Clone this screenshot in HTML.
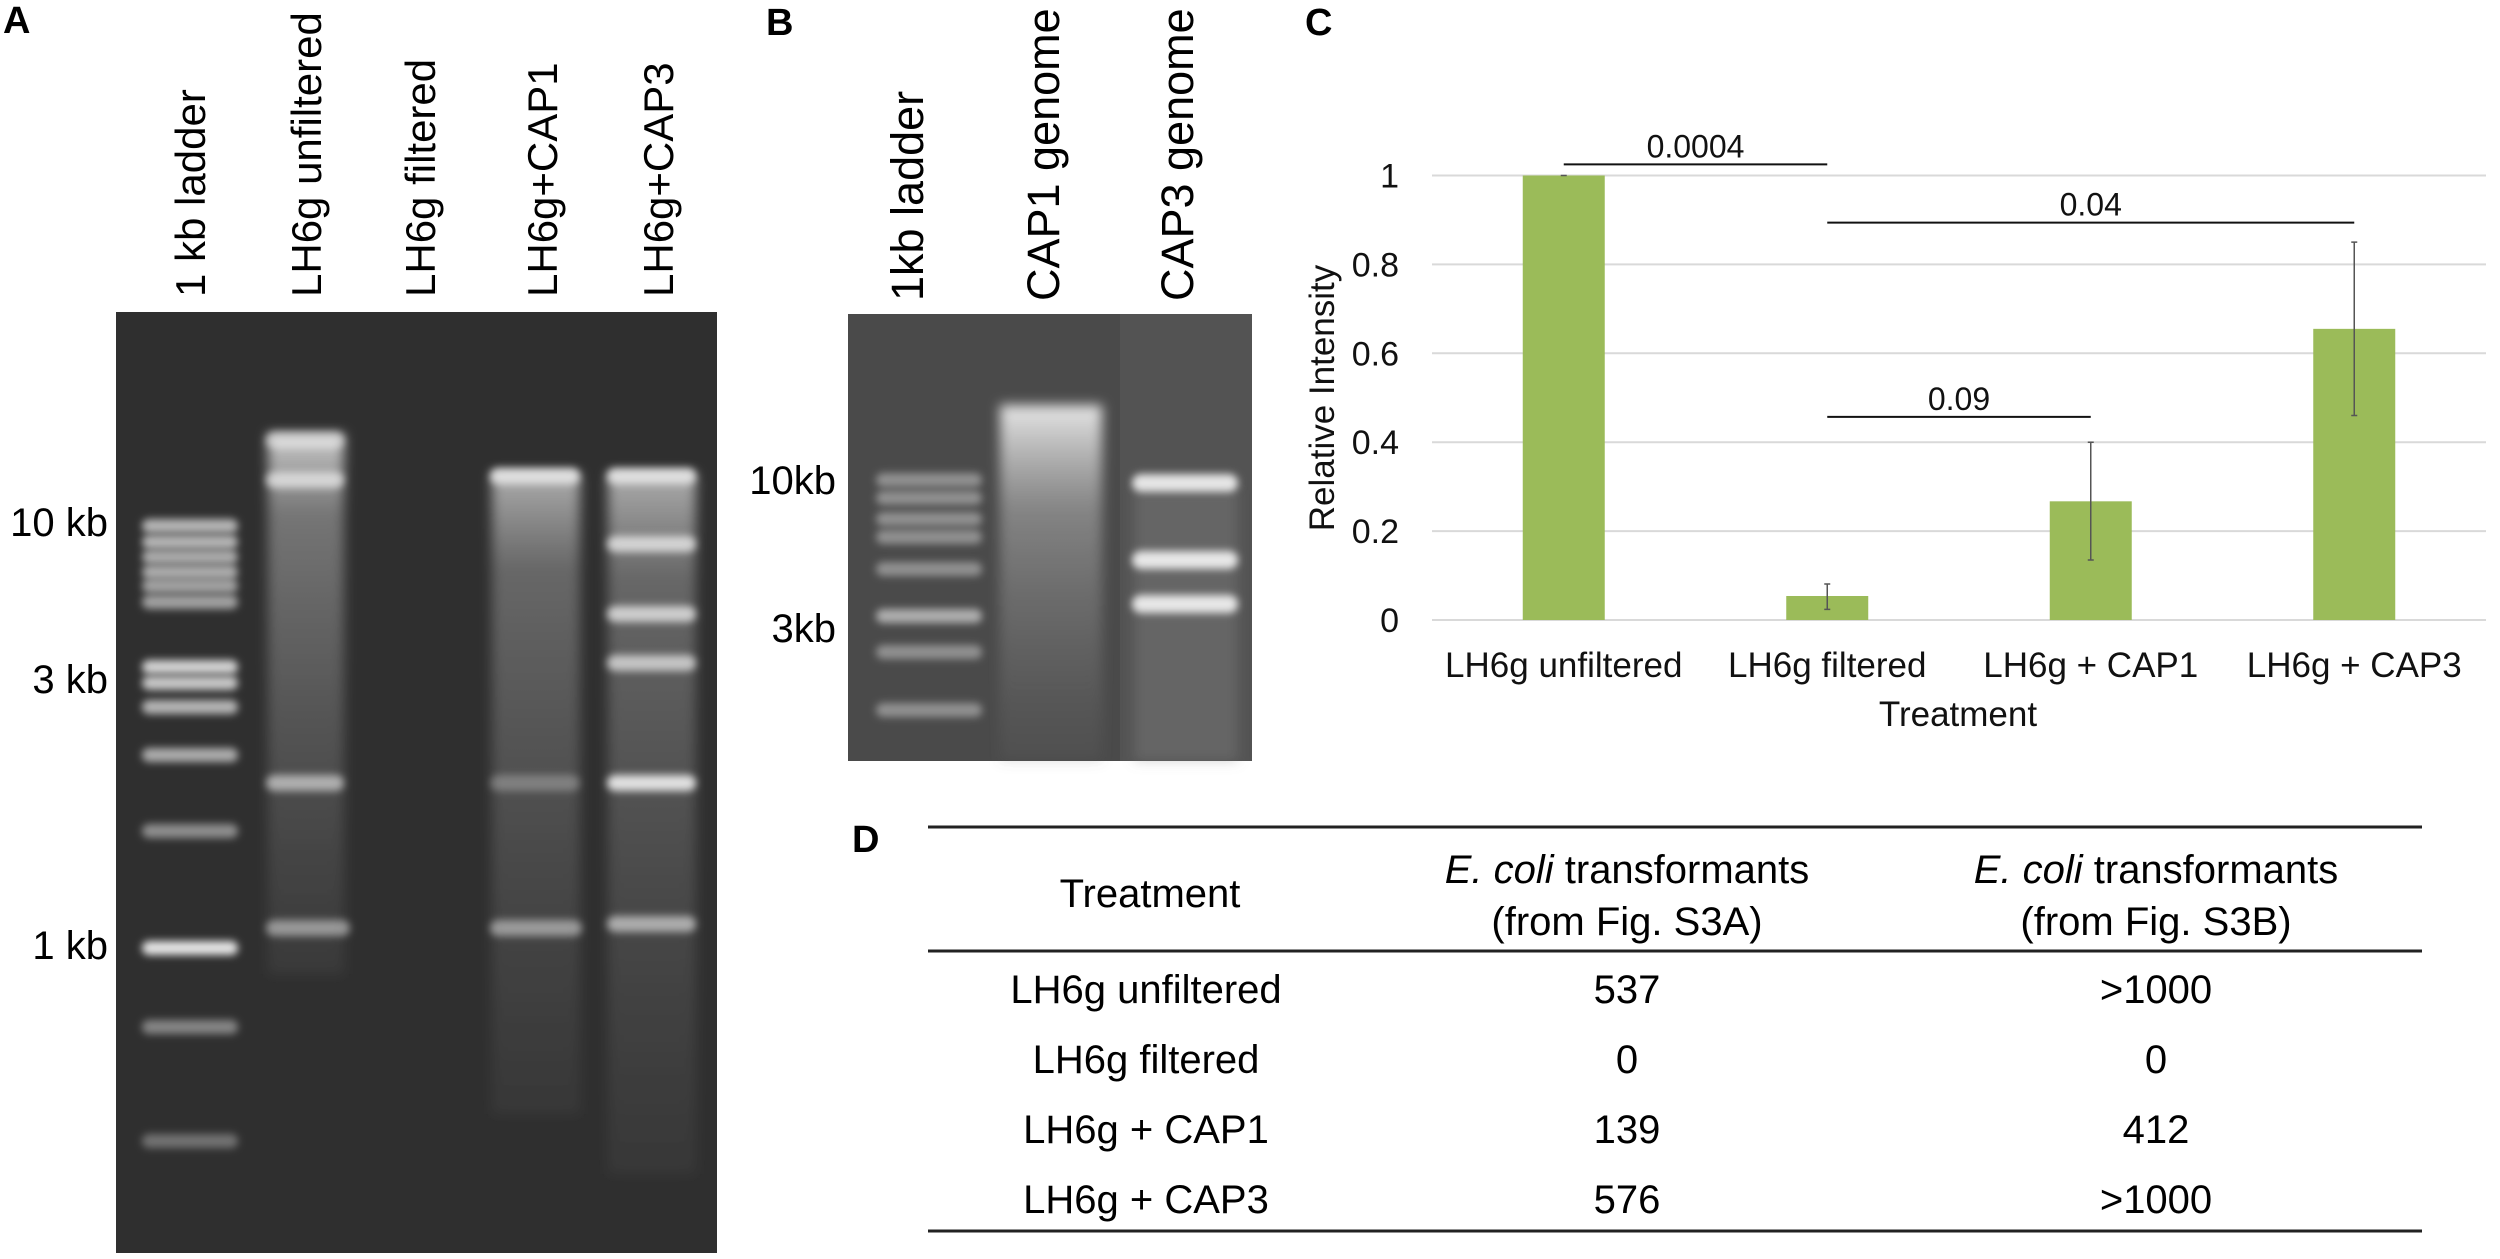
<!DOCTYPE html>
<html><head><meta charset="utf-8"><style>
html,body{margin:0;padding:0;background:#fff;}
svg{display:block;font-family:"Liberation Sans",Arial,sans-serif;}
</style></head><body>
<svg id="fig" width="2500" height="1259" viewBox="0 0 2500 1259" xmlns="http://www.w3.org/2000/svg">
<defs>
<filter id="blur3" x="-20%" y="-200%" width="140%" height="500%"><feGaussianBlur stdDeviation="4"/></filter>
<filter id="blur6" x="-20%" y="-50%" width="140%" height="200%"><feGaussianBlur stdDeviation="6"/></filter>
<linearGradient id="smearA" x1="0" y1="0" x2="0" y2="1"><stop offset="0" stop-color="#ddd" stop-opacity="0.9"/><stop offset="0.15" stop-color="#bbb" stop-opacity="0.5"/><stop offset="1" stop-color="#777" stop-opacity="0.15"/></linearGradient>
<linearGradient id="smearB" x1="0" y1="0" x2="0" y2="1"><stop offset="0" stop-color="#eee" stop-opacity="0.95"/><stop offset="0.3" stop-color="#aaa" stop-opacity="0.6"/><stop offset="1" stop-color="#666" stop-opacity="0.2"/></linearGradient>
</defs>
<rect width="2500" height="1259" fill="#fff"/>

<text x="3" y="33" font-size="38" font-weight="bold">A</text>
<text x="766" y="35" font-size="38" font-weight="bold">B</text>
<text x="1305" y="35" font-size="38" font-weight="bold">C</text>
<text x="852" y="852" font-size="38" font-weight="bold">D</text>

<g>
<rect x="116" y="312" width="601" height="941" fill="#2f2f2f"/>
<g id="gelA"></g>
</g>
<g font-size="42">
<text transform="translate(205,297) rotate(-90)">1 kb ladder</text>
<text transform="translate(321,297) rotate(-90)">LH6g unfiltered</text>
<text transform="translate(435,297) rotate(-90)">LH6g filtered</text>
<text transform="translate(557,297) rotate(-90)">LH6g+CAP1</text>
<text transform="translate(673,297) rotate(-90)">LH6g+CAP3</text>
</g>
<g font-size="40" text-anchor="end">
<text x="108" y="536">10 kb</text>
<text x="108" y="693">3 kb</text>
<text x="108" y="959">1 kb</text>
</g>

<g>
<rect x="848" y="314" width="404" height="447" fill="#4a4a4a"/>
<rect x="1120" y="314" width="132" height="447" fill="#535353"/>
<g id="gelB"></g>
</g>
<g font-size="45">
<text transform="translate(923,301) rotate(-90)">1kb ladder</text>
<text transform="translate(1059,301) rotate(-90)">CAP1 genome</text>
<text transform="translate(1193,301) rotate(-90)">CAP3 genome</text>
</g>
<g font-size="40" text-anchor="end">
<text x="836" y="494">10kb</text>
<text x="836" y="642">3kb</text>
</g>

<g id="chart"></g>

<g font-size="40" text-anchor="middle">
<line x1="928" y1="827" x2="2422" y2="827" stroke="#222" stroke-width="3"/>
<line x1="928" y1="951" x2="2422" y2="951" stroke="#222" stroke-width="3"/>
<line x1="928" y1="1231" x2="2422" y2="1231" stroke="#222" stroke-width="3"/>
<text x="1150" y="907">Treatment</text>
<text x="1627" y="883"><tspan font-style="italic">E. coli</tspan> transformants</text>
<text x="1627" y="935">(from Fig. S3A)</text>
<text x="2156" y="883"><tspan font-style="italic">E. coli</tspan> transformants</text>
<text x="2156" y="935">(from Fig. S3B)</text>
<g id="rows"></g>
</g>
</svg>
<script>
const NS="http://www.w3.org/2000/svg";
function mk(tag,attrs,parent){const e=document.createElementNS(NS,tag);for(const k in attrs)e.setAttribute(k,attrs[k]);parent.appendChild(e);return e;}

const gA=document.getElementById('gelA');
const ladderA=[526,542,557,572,586,602,667,683,707,755,831,948,1027,1141];
const ladderAop=[0.7,0.7,0.65,0.65,0.6,0.6,0.85,0.8,0.7,0.65,0.5,0.95,0.45,0.35];
ladderA.forEach((y,i)=>{const b=mk('rect',{x:142,y:y-7,width:96,height:14,rx:7,fill:'#eeeeee','fill-opacity':ladderAop[i],filter:'url(#blur3)'},gA);

});
mk('rect',{x:268,y:434,width:76,height:540,fill:'url(#smearA)',filter:'url(#blur6)'},gA);
mk('rect',{x:492,y:474,width:88,height:640,fill:'url(#smearA)','fill-opacity':0.8,filter:'url(#blur6)'},gA);
mk('rect',{x:608,y:474,width:88,height:700,fill:'url(#smearA)','fill-opacity':0.8,filter:'url(#blur6)'},gA);
[[266,344,440,0.6],[266,344,480,0.7],[266,344,783,0.6],[266,350,928,0.5],
 [490,580,476,0.85],[490,580,783,0.3],[490,582,928,0.5],
 [607,696,476,0.85],[607,696,544,0.75],[607,696,614,0.75],[607,696,663,0.7],[607,696,783,0.9],[607,696,924,0.6]].forEach(b=>{
 const r=mk('rect',{x:b[0],y:b[2]-8,width:b[1]-b[0],height:16,rx:8,fill:'#f0f0f0','fill-opacity':b[3],filter:'url(#blur3)'},gA);
 
 });

const gB=document.getElementById('gelB');
[480,498,519,537,569,616,652,710].forEach((y,i)=>{const r=mk('rect',{x:876,y:y-7,width:106,height:14,rx:7,fill:'#d8d8d8','fill-opacity':i==5?0.7:0.5,filter:'url(#blur3)'},gB);

});
mk('rect',{x:1000,y:405,width:102,height:356,fill:'url(#smearB)',filter:'url(#blur6)'},gB);
mk('rect',{x:1134,y:490,width:104,height:271,fill:'#888','fill-opacity':0.35,filter:'url(#blur6)'},gB);
[483,560,604].forEach(y=>{const r=mk('rect',{x:1132,y:y-9,width:106,height:18,rx:9,fill:'#f5f5f5','fill-opacity':0.9,filter:'url(#blur3)'},gB);

});

const categories=["LH6g unfiltered","LH6g filtered","LH6g + CAP1","LH6g + CAP3"];
const values=[1.0,0.054,0.267,0.655];
const errLow=[1.0,0.024,0.135,0.46];
const errHigh=[1.0,0.081,0.40,0.85];
const yTicks=[0,0.2,0.4,0.6,0.8,1];
const yTickLabels=["0","0.2","0.4","0.6","0.8","1"];
const sigLabels=["0.0004","0.04","0.09"];
const sigFrom=[0,1,1];
const sigTo=[1,3,2];
const sigLevel=[1.025,0.894,0.457];

const plotL=1432,plotR=2486,y0=620,y1=175.5;
const yS=v=>y0-(y0-y1)*v;
const bandW=(plotR-plotL)/categories.length;
const xC=i=>plotL+bandW*(i+0.5);
const barW=82;
const ch=document.getElementById('chart');
yTicks.forEach((t,i)=>{
 const g=mk('line',{x1:plotL,x2:plotR,y1:yS(t),y2:yS(t),stroke:'#d9d9d9','stroke-width':2},ch);
 
 
 const tx=mk('text',{x:1399,y:yS(t)+12,'font-size':34,'text-anchor':'end',fill:'#111'},ch);
 tx.textContent=yTickLabels[i];
 
 
});
categories.forEach((c,i)=>{
 const b=mk('rect',{x:xC(i)-barW/2,y:yS(values[i]),width:barW,height:yS(0)-yS(values[i]),fill:'#9bbb59'},ch);
 
 
 const e=mk('path',{d:`M${xC(i)},${yS(errHigh[i])}V${yS(errLow[i])}M${xC(i)-3},${yS(errHigh[i])}h6M${xC(i)-3},${yS(errLow[i])}h6`,stroke:'#555','stroke-width':1.5,fill:'none'},ch);
 
 
 const l=mk('text',{x:xC(i),y:677,'font-size':35,'text-anchor':'middle',fill:'#111'},ch);
 l.textContent=c;
 
 
});
sigLabels.forEach((s,i)=>{
 const y=yS(sigLevel[i]);
 const ln=mk('line',{x1:xC(sigFrom[i]),x2:xC(sigTo[i]),y1:y,y2:y,stroke:'#111','stroke-width':2},ch);
 
 
 const t=mk('text',{x:(xC(sigFrom[i])+xC(sigTo[i]))/2,y:y-7,'font-size':32,'text-anchor':'middle',fill:'#111'},ch);
 t.textContent=s;
 
 
});
const xt=mk('text',{x:1958,y:726,'font-size':35,'text-anchor':'middle',fill:'#111'},ch);
xt.textContent="Treatment";


const yt=mk('text',{transform:'translate(1334,398) rotate(-90)','font-size':35,'text-anchor':'middle',fill:'#111'},ch);
yt.textContent="Relative Intensity";



const rowTreat=["LH6g unfiltered","LH6g filtered","LH6g + CAP1","LH6g + CAP3"];
const rowA=["537","0","139","576"];
const rowB=[">1000","0","412",">1000"];
const rowY=[1003,1073,1143,1213];
const rg=document.getElementById('rows');
rowTreat.forEach((t,i)=>{
 [[1146,t],[1627,rowA[i]],[2156,rowB[i]]].forEach((c,j)=>{
  const e=mk('text',{x:c[0],y:rowY[i]},rg);
  e.textContent=c[1];
  
  
 });
});
</script>
</body></html>
